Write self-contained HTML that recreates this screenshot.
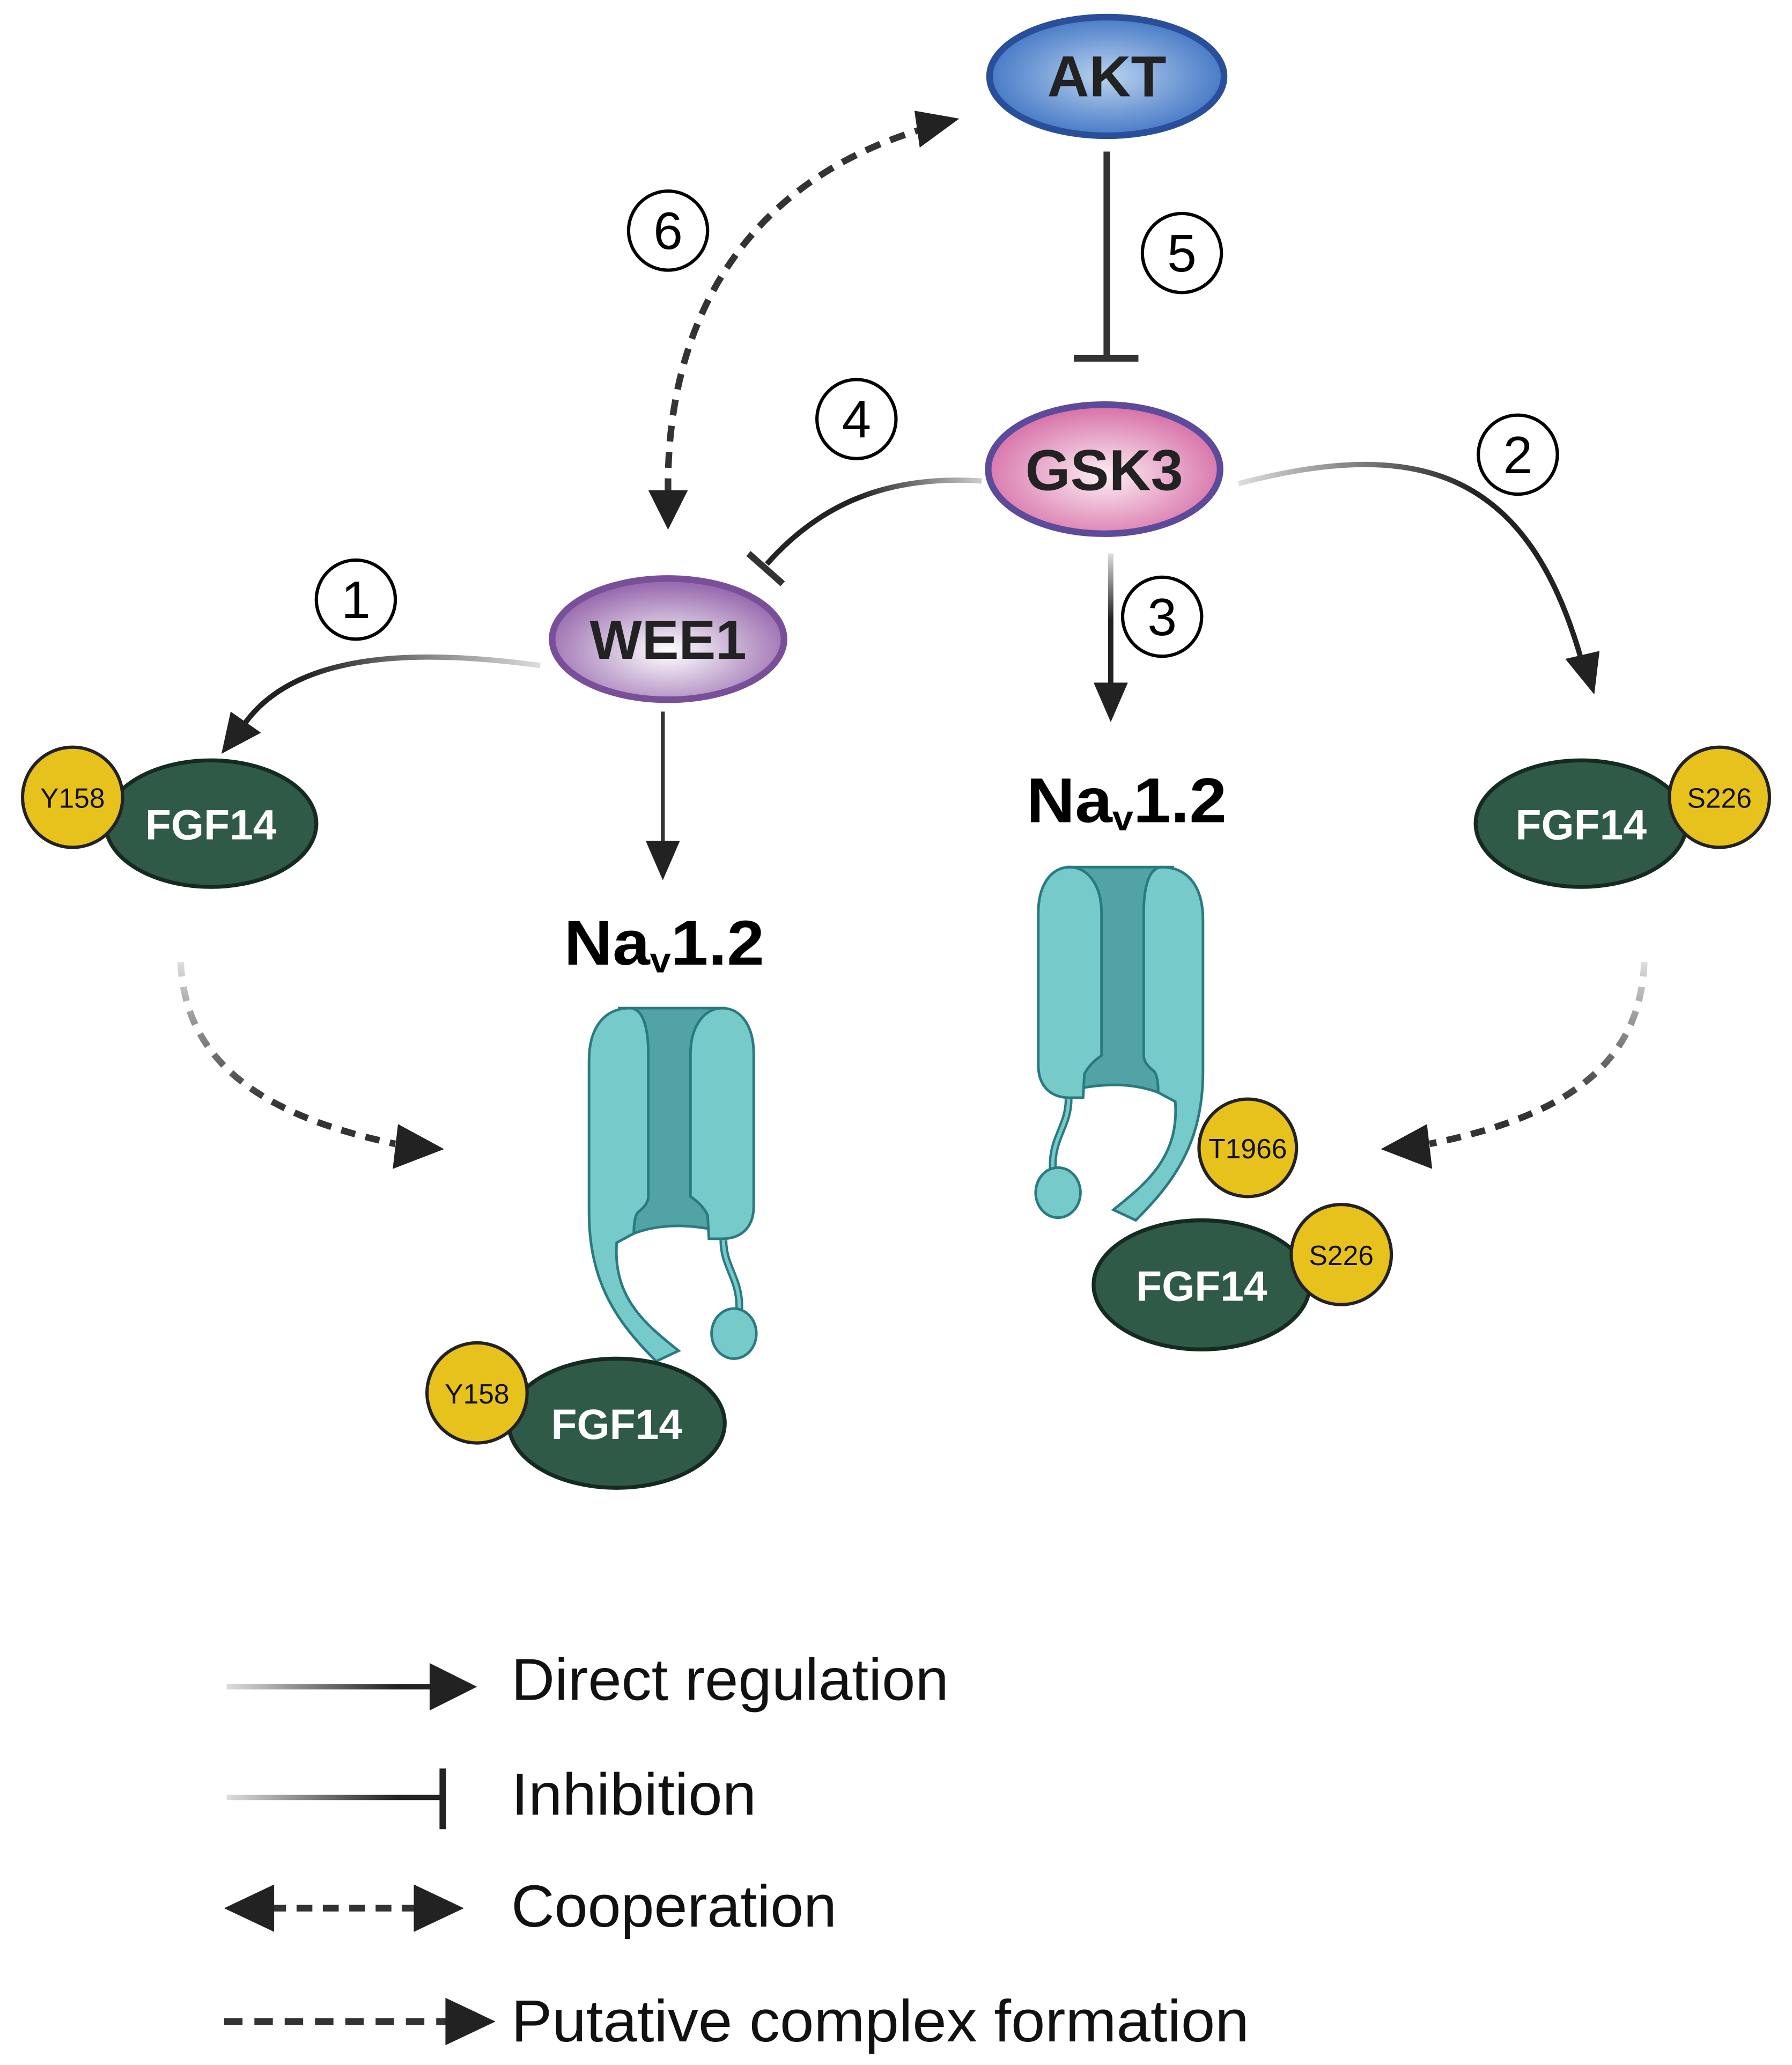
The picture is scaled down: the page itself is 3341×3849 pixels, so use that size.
<!DOCTYPE html>
<html><head><meta charset="utf-8"><style>html,body{margin:0;padding:0;background:#fff}svg{display:block}</style></head>
<body>
<svg width="3341" height="3849" viewBox="0 0 1360 1567" xmlns="http://www.w3.org/2000/svg" font-family="Liberation Sans, sans-serif">
<defs>
<radialGradient id="gA" cx="50%" cy="50%" r="55%"><stop offset="0" stop-color="#b9d3f0"/><stop offset="1" stop-color="#3d72c2"/></radialGradient>
<radialGradient id="gG" cx="50%" cy="55%" r="55%"><stop offset="0" stop-color="#fdeef4"/><stop offset="1" stop-color="#d66ea6"/></radialGradient>
<radialGradient id="gW" cx="50%" cy="60%" r="55%"><stop offset="0" stop-color="#ffffff"/><stop offset="1" stop-color="#9a6db0"/></radialGradient>
<linearGradient id="l1" gradientUnits="userSpaceOnUse" x1="410" y1="500" x2="230" y2="510"><stop offset="0" stop-color="#ddd"/><stop offset="1" stop-color="#222"/></linearGradient>
<linearGradient id="l2" gradientUnits="userSpaceOnUse" x1="940" y1="365" x2="1120" y2="360"><stop offset="0" stop-color="#ddd"/><stop offset="1" stop-color="#222"/></linearGradient>
<linearGradient id="l4" gradientUnits="userSpaceOnUse" x1="745" y1="365" x2="650" y2="375"><stop offset="0" stop-color="#ccc"/><stop offset="1" stop-color="#222"/></linearGradient>
<linearGradient id="l3" gradientUnits="userSpaceOnUse" x1="0" y1="420" x2="0" y2="470"><stop offset="0" stop-color="#ddd"/><stop offset="1" stop-color="#222"/></linearGradient>
<linearGradient id="lg" gradientUnits="userSpaceOnUse" x1="172" y1="0" x2="300" y2="0"><stop offset="0" stop-color="#ddd"/><stop offset="1" stop-color="#222"/></linearGradient>
<linearGradient id="dl" gradientUnits="userSpaceOnUse" x1="0" y1="730" x2="0" y2="840"><stop offset="0" stop-color="#ddd"/><stop offset="1" stop-color="#333"/></linearGradient>
<g id="chan">
<path d="M470,765 L550,765 L550,935 Q510,925 481,936 Z" fill="#52a3a6" stroke="#2b7a80" stroke-width="2"/>
<path d="M447,805 C447,778 460,765 478,765 C488,765 492,780 492,800 L492,908 Q492,914 484,920 Q481,924 481,936 L468,943 C465,985 490,1005 515,1025 L498,1033 C470,1005 447,975 447,920 Z" fill="#76caca" stroke="#2b7a80" stroke-width="2"/>
<path d="M524,800 C524,778 535,765 548,765 C562,765 572,778 572,800 L572,915 C572,932 562,940 548,940 L538,940 L537,922 Q533,914 524,908 Z" fill="#76caca" stroke="#2b7a80" stroke-width="2"/>
<path d="M549,941 C549,962 562,970 561,994" fill="none" stroke="#2b7a80" stroke-width="6"/>
<path d="M549,941 C549,962 562,970 561,994" fill="none" stroke="#76caca" stroke-width="2.5"/>
<ellipse cx="557" cy="1012" rx="17" ry="19" fill="#76caca" stroke="#2b7a80" stroke-width="2"/>
</g>
</defs>

<line x1="840" y1="115" x2="840" y2="272" stroke="#333" stroke-width="5"/>
<line x1="815" y1="272" x2="864" y2="272" stroke="#333" stroke-width="5"/>
<path d="M507,375 C505,250 560,140 700,98" fill="none" stroke="#333" stroke-width="5" stroke-dasharray="12,8"/>
<polygon points="728,90 698,112 694,84" fill="#222"/>
<polygon points="507,402 492,372 522,372" fill="#222"/>
<path d="M745,365 C670,360 620,385 582,428" fill="none" stroke="url(#l4)" stroke-width="4"/>
<line x1="568" y1="420" x2="594" y2="443" stroke="#333" stroke-width="5"/>
<line x1="843" y1="420" x2="843" y2="520" stroke="url(#l3)" stroke-width="4"/>
<polygon points="843,548 830,518 856,518" fill="#222"/>
<path d="M940,367 C1080,330 1160,360 1200,500" fill="none" stroke="url(#l2)" stroke-width="4"/>
<polygon points="1210,527 1188,500 1214,494" fill="#222"/>
<path d="M410,505 C300,490 220,500 185,550" fill="none" stroke="url(#l1)" stroke-width="4"/>
<polygon points="168,572 175,540 198,556" fill="#222"/>
<line x1="503" y1="540" x2="503" y2="640" stroke="#333" stroke-width="3"/>
<polygon points="503,668 490,638 516,638" fill="#222"/>
<path d="M137,730 C140,800 190,845 300,868" fill="none" stroke="url(#dl)" stroke-width="5" stroke-dasharray="11,8"/>
<polygon points="337,872 298,887 302,853" fill="#222"/>
<path d="M1248,730 C1245,800 1200,845 1085,868" fill="none" stroke="url(#dl)" stroke-width="5" stroke-dasharray="11,8"/>
<polygon points="1048,872 1087,887 1083,853" fill="#222"/>

<ellipse cx="840" cy="58" rx="89" ry="45" fill="url(#gA)" stroke="#2a4f9a" stroke-width="5"/>
<text x="840" y="73" font-size="44" font-weight="bold" text-anchor="middle" fill="#222">AKT</text>
<ellipse cx="838" cy="356" rx="88" ry="49" fill="url(#gG)" stroke="#5d4a9a" stroke-width="5"/>
<text x="838" y="372" font-size="44" font-weight="bold" text-anchor="middle" fill="#222">GSK3</text>
<ellipse cx="507" cy="485" rx="88" ry="46" fill="url(#gW)" stroke="#7a4f9a" stroke-width="5"/>
<text x="507" y="500" font-size="42" font-weight="bold" text-anchor="middle" fill="#222">WEE1</text>

<g fill="none" stroke="#000" stroke-width="2.5">
<circle cx="897" cy="192" r="30"/><circle cx="507" cy="175" r="30"/><circle cx="650" cy="318" r="30"/>
<circle cx="1152" cy="345" r="30"/><circle cx="270" cy="455" r="30"/><circle cx="882" cy="468" r="30"/>
</g>
<g font-size="40" text-anchor="middle" fill="#000">
<text x="897" y="206">5</text><text x="507" y="189">6</text><text x="650" y="332">4</text>
<text x="1152" y="359">2</text><text x="270" y="469">1</text><text x="882" y="482">3</text>
</g>

<ellipse cx="160" cy="625" rx="80" ry="48" fill="#2f5a48" stroke="#152a20" stroke-width="3"/>
<text x="160" y="637" font-size="32" font-weight="bold" text-anchor="middle" fill="#fff">FGF14</text>
<circle cx="55" cy="605" r="38" fill="#e8c21c" stroke="#222" stroke-width="2.5"/>
<text x="55" y="613" font-size="21" text-anchor="middle" fill="#111">Y158</text>
<ellipse cx="1200" cy="625" rx="80" ry="48" fill="#2f5a48" stroke="#152a20" stroke-width="3"/>
<text x="1200" y="637" font-size="32" font-weight="bold" text-anchor="middle" fill="#fff">FGF14</text>
<circle cx="1305" cy="605" r="38" fill="#e8c21c" stroke="#222" stroke-width="2.5"/>
<text x="1305" y="613" font-size="21" text-anchor="middle" fill="#111">S226</text>

<text x="428" y="732" font-size="48" font-weight="bold" fill="#000" textLength="152" lengthAdjust="spacingAndGlyphs">Na<tspan font-size="27" dy="6">v</tspan><tspan dy="-6">1.2</tspan></text>
<text x="779" y="624" font-size="48" font-weight="bold" fill="#000" textLength="152" lengthAdjust="spacingAndGlyphs">Na<tspan font-size="27" dy="6">v</tspan><tspan dy="-6">1.2</tspan></text>

<use href="#chan"/>
<g transform="translate(341,-107) scale(-1,1) translate(-1019,0)"><use href="#chan"/></g>

<ellipse cx="468" cy="1080" rx="82" ry="49" fill="#2f5a48" stroke="#152a20" stroke-width="3"/>
<text x="468" y="1092" font-size="32" font-weight="bold" text-anchor="middle" fill="#fff">FGF14</text>
<circle cx="362" cy="1057" r="38" fill="#e8c21c" stroke="#222" stroke-width="2.5"/>
<text x="362" y="1065" font-size="21" text-anchor="middle" fill="#111">Y158</text>
<circle cx="947" cy="871" r="37" fill="#e8c21c" stroke="#222" stroke-width="2.5"/>
<text x="947" y="879" font-size="21" text-anchor="middle" fill="#111">T1966</text>
<ellipse cx="912" cy="975" rx="82" ry="49" fill="#2f5a48" stroke="#152a20" stroke-width="3"/>
<text x="912" y="987" font-size="32" font-weight="bold" text-anchor="middle" fill="#fff">FGF14</text>
<circle cx="1018" cy="952" r="38" fill="#e8c21c" stroke="#222" stroke-width="2.5"/>
<text x="1018" y="960" font-size="21" text-anchor="middle" fill="#111">S226</text>

<line x1="172" y1="1280" x2="330" y2="1280" stroke="url(#lg)" stroke-width="4"/>
<polygon points="362,1280 326,1262 326,1298" fill="#222"/>
<line x1="172" y1="1364" x2="336" y2="1364" stroke="url(#lg)" stroke-width="4"/>
<line x1="336" y1="1342" x2="336" y2="1388" stroke="#222" stroke-width="5"/>
<line x1="205" y1="1448" x2="318" y2="1448" stroke="#333" stroke-width="5" stroke-dasharray="12,8"/>
<polygon points="170,1448 208,1430 208,1466" fill="#222"/>
<polygon points="352,1448 314,1430 314,1466" fill="#222"/>
<line x1="170" y1="1534" x2="340" y2="1534" stroke="#333" stroke-width="5" stroke-dasharray="14,9"/>
<polygon points="376,1534 338,1516 338,1552" fill="#222"/>
<g font-size="45" fill="#111">
<text x="388" y="1290" textLength="332" lengthAdjust="spacingAndGlyphs">Direct regulation</text>
<text x="388" y="1377" textLength="186" lengthAdjust="spacingAndGlyphs">Inhibition</text>
<text x="388" y="1462" textLength="247" lengthAdjust="spacingAndGlyphs">Cooperation</text>
<text x="388" y="1549" textLength="560" lengthAdjust="spacingAndGlyphs">Putative complex formation</text>
</g>
</svg>
</body></html>
